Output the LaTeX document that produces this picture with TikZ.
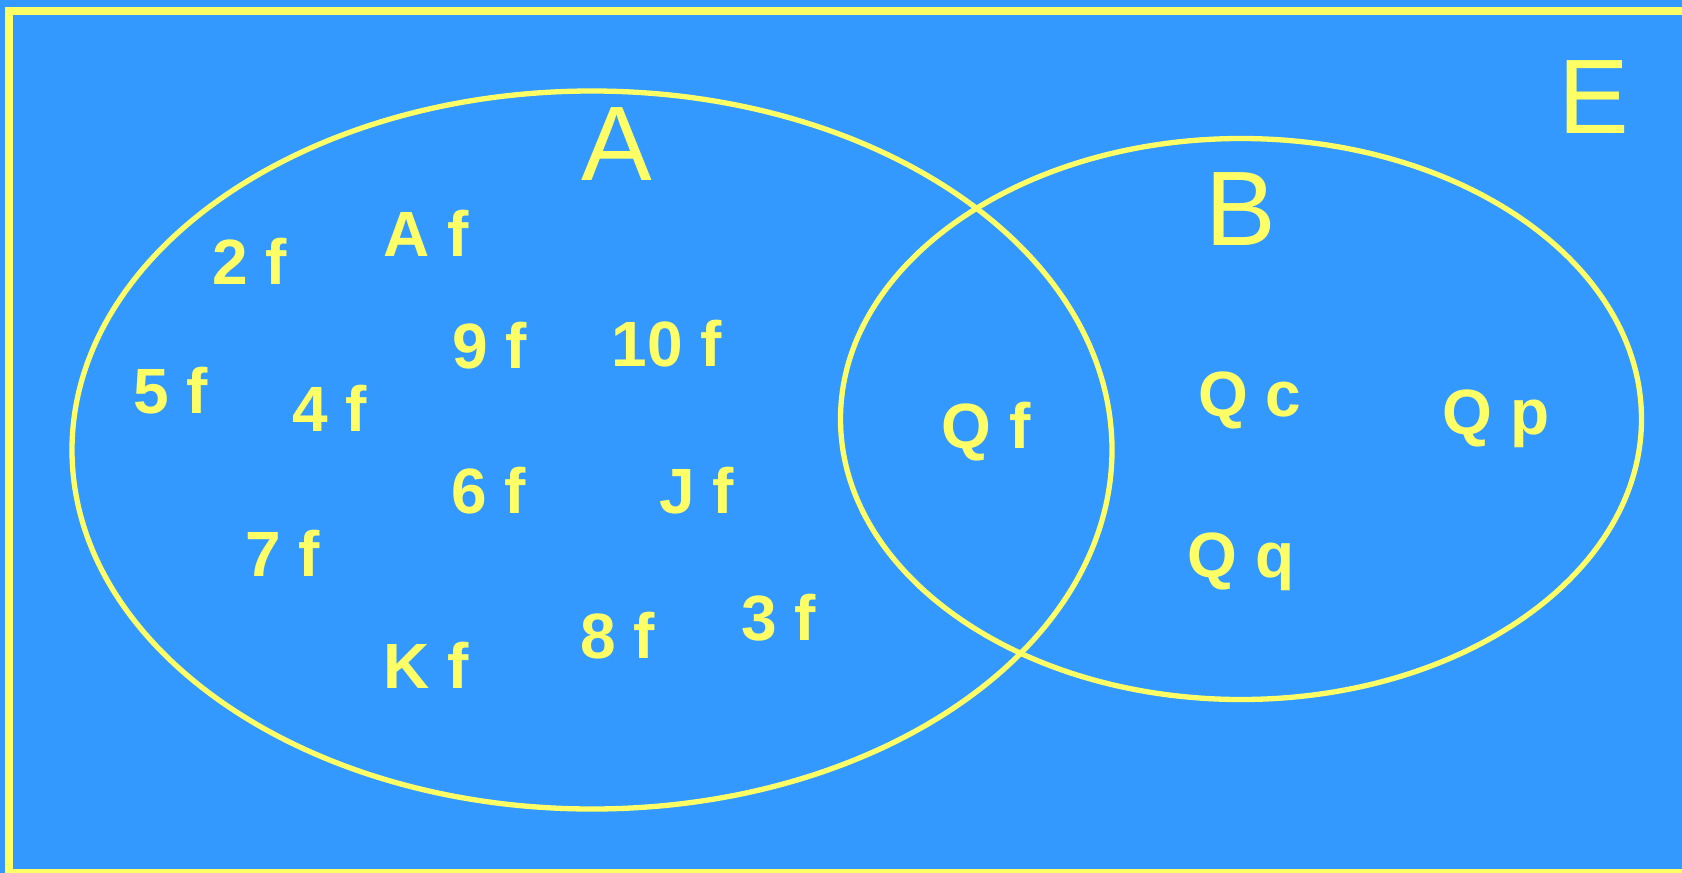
\documentclass[tikz,border=0pt]{standalone}
\usepackage{fontspec}
\setmainfont{Liberation Sans}
\usetikzlibrary{shapes.geometric}
\definecolor{venbg}{HTML}{3399FF}
\definecolor{venfg}{HTML}{FFFF66}
\tikzset{
  setshape/.style={ellipse, draw=venfg, line width=5.3pt, inner sep=0pt},
  elem/.style={text=venfg, anchor=base, inner sep=0pt,
    font=\bfseries\fontsize{64}{64}\selectfont},
  setname/.style={text=venfg, anchor=base, inner sep=0pt,
    font=\fontsize{106}{106}\selectfont}
}
\begin{document}
\begin{tikzpicture}[x=1pt, y=-1pt]
  \useasboundingbox (0,0) rectangle (1682,873);
  \clip (0,0) rectangle (1682,873);
  \fill[venbg] (0,0) rectangle (1682,873);
  % universal set frame
  \draw[venfg, line width=8pt] (1700,11) -- (9,11) -- (9,873) -- (1700,873);

  % the two sets
  \node[setshape, minimum width=1040pt, minimum height=718pt] (setA) at (592,450) {};
  \node[setshape, minimum width=801pt, minimum height=561pt] (setB) at (1241,419) {};

  % set names
  \node[setname] (nameA) at (617,180) {A};
  \node[setname] (nameB) at (1241,245) {B};
  \node[setname] (nameE) at (1594,133) {E};

  % elements of A only
  \node[elem] (e2f)  at (250,284) {2 f};
  \node[elem] (eAf)  at (426,256) {A f};
  \node[elem] (e5f)  at (171,413) {5 f};
  \node[elem] (e4f)  at (330,431) {4 f};
  \node[elem] (e9f)  at (490,368) {9 f};
  \node[elem] (e10f) at (667,366) {10 f};
  \node[elem] (e6f)  at (489,513) {6 f};
  \node[elem] (eJf)  at (697,513) {J f};
  \node[elem] (e7f)  at (283,576) {7 f};
  \node[elem] (eKf)  at (426,688) {K f};
  \node[elem] (e8f)  at (618,658) {8 f};
  \node[elem] (e3f)  at (779,640) {3 f};

  % intersection
  \node[elem] (eQf)  at (986,448) {Q f};

  % elements of B only
  \node[elem] (eQc)  at (1250,416) {Q c};
  \node[elem] (eQp)  at (1496,434) {Q p};
  \node[elem] (eQq)  at (1241,577) {Q q};
\end{tikzpicture}
\end{document}
